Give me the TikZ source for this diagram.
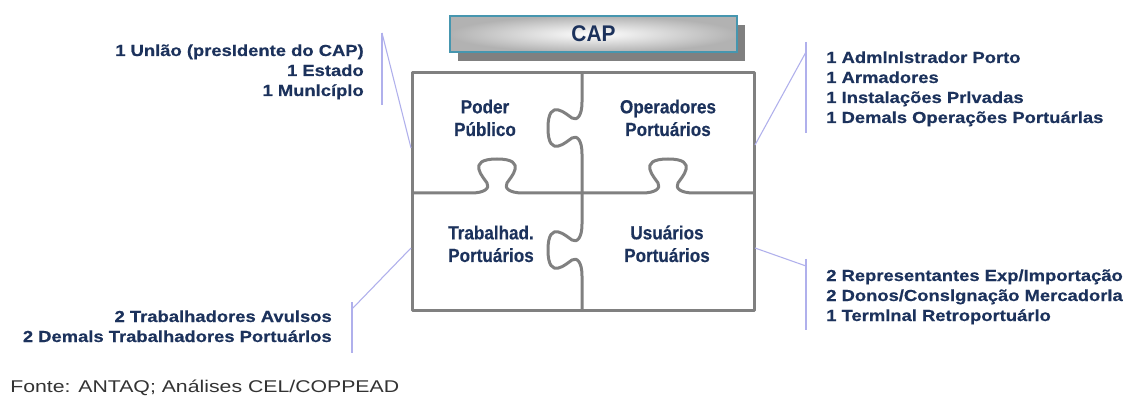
\documentclass[tikz,border=0pt]{standalone}
\usepackage{fontspec}
\setmainfont{Liberation Sans}
\newfontfamily\sidefont[FakeStretch=1.15,FakeBold=0.4]{Liberation Sans}
\newfontfamily\puzfont[FakeStretch=0.9,FakeBold=0.4]{Liberation Sans}
\newfontfamily\capfont[FakeStretch=0.92]{Liberation Sans}
\newfontfamily\srcfont[FakeStretch=1.25]{Liberation Sans}
\usetikzlibrary{shadows}
\definecolor{navy}{RGB}{28,50,92}
\definecolor{puzgray}{RGB}{128,128,128}
\definecolor{lav}{RGB}{176,176,236}
\definecolor{capborder}{RGB}{70,150,175}
\definecolor{srcgray}{RGB}{51,51,51}
\begin{document}
\begin{tikzpicture}[x=0.75pt,y=-0.75pt,
  puz/.style={draw=puzgray, line width=2.25pt, line join=round},
  conn/.style={draw=lav, line width=0.8pt},
  sidetxt/.style={font=\sidefont\bfseries\fontsize{12}{15}\selectfont, text=navy, inner sep=0pt},
  puztxt/.style={font=\puzfont\bfseries\fontsize{14.25}{17}\selectfont, text=navy, align=center, inner sep=0pt},
  vtab/.style={insert path={.. controls (0,-12) and (-5,-7) .. (-10,-10) .. controls (-15,-13) and (-34,-32) .. (-34,0) .. controls (-34,32) and (-15,13) .. (-10,10) .. controls (-5,7) and (0,12) .. (0,26)}},
  htab/.style={insert path={.. controls (-12,0) and (-7,-5) .. (-10,-10) .. controls (-13,-15) and (-32,-34) .. (0,-34) .. controls (32,-34) and (13,-15) .. (10,-10) .. controls (7,-5) and (12,0) .. (26,0)}},
]
\useasboundingbox[fill=white] (0,0) rectangle (1125,399);

% CAP box
\node[draw=capborder, line width=1.1pt, inner color=white, outer color=gray!60,
  minimum width=215.25pt, minimum height=27pt,
  drop shadow={shadow xshift=6pt, shadow yshift=-6.75pt, fill=black!50, opacity=1},
  font=\capfont\bfseries\fontsize{17}{20}\selectfont, text=navy] (cap) at (593.5,34) {CAP};

% puzzle
\draw[puz] (412,73) rectangle (754,310);
\draw[puz, shift={(582,128)}] (0,-55) -- (0,-26) [vtab] -- (0,65);
\draw[puz, shift={(582,250)}] (0,-57) -- (0,-26) [vtab] -- (0,60);
\draw[puz, shift={(497,193)}] (-85,0) -- (-26,0) [htab] -- (85,0);
\draw[puz, shift={(668,193)}] (-86,0) -- (-26,0) [htab] -- (86,0);

\node[puztxt, anchor=base] (poder) at (485,136) {Poder\\Público};
\node[puztxt, anchor=base] (oper) at (668,136) {Operadores\\Portuários};
\node[puztxt, anchor=base] (trab) at (491,262) {Trabalhad.\\Portuários};
\node[puztxt, anchor=base] (usu) at (667,262) {Usuários\\Portuários};

% side texts
\node[sidetxt, align=right, anchor=base east] (lt) at (364,96) {1 Unlão (presIdente do CAP)\\1 Estado\\1 Munlcíplo};
\node[sidetxt, align=left, anchor=base west] (rt) at (826,123) {1 Admlnlstrador Porto\\1 Armadores\\1 Instalações Prlvadas\\1 Demals Operações Portuárlas};
\node[sidetxt, align=right, anchor=base east] (lb) at (332,342) {2 Trabalhadores Avulsos\\2 Demals Trabalhadores Portuárlos};
\node[sidetxt, align=left, anchor=base west] (rb) at (826,321) {2 Representantes Exp/Importação\\2 Donos/Conslgnação Mercadorla\\1 Termlnal Retroportuárlo};

\node[font=\srcfont\fontsize{12.75}{15}\selectfont, text=srcgray, inner sep=0pt, anchor=base west] (src) at (10,392) {Fonte: ANTAQ; Análises CEL/COPPEAD};

% connectors
\coordinate (lt1) at (382,33); \coordinate (lt2) at (382,105); \coordinate (ltp) at (411,148);
\coordinate (rt1) at (806,42); \coordinate (rt2) at (806,133); \coordinate (rtj) at (806,52); \coordinate (rtp) at (755,145);
\coordinate (lb1) at (352,302); \coordinate (lb2) at (352,353); \coordinate (lbj) at (352,309); \coordinate (lbp) at (411,248);
\coordinate (rb1) at (806,259); \coordinate (rb2) at (806,330); \coordinate (rbj) at (806,266); \coordinate (rbp) at (755,248);
\draw[conn] (lt1) -- (lt2);
\draw[conn] (lt1) -- (ltp);
\draw[conn] (rt1) -- (rt2);
\draw[conn] (rtj) -- (rtp);
\draw[conn] (lb1) -- (lb2);
\draw[conn] (lbj) -- (lbp);
\draw[conn] (rb1) -- (rb2);
\draw[conn] (rbj) -- (rbp);
\end{tikzpicture}
\end{document}
